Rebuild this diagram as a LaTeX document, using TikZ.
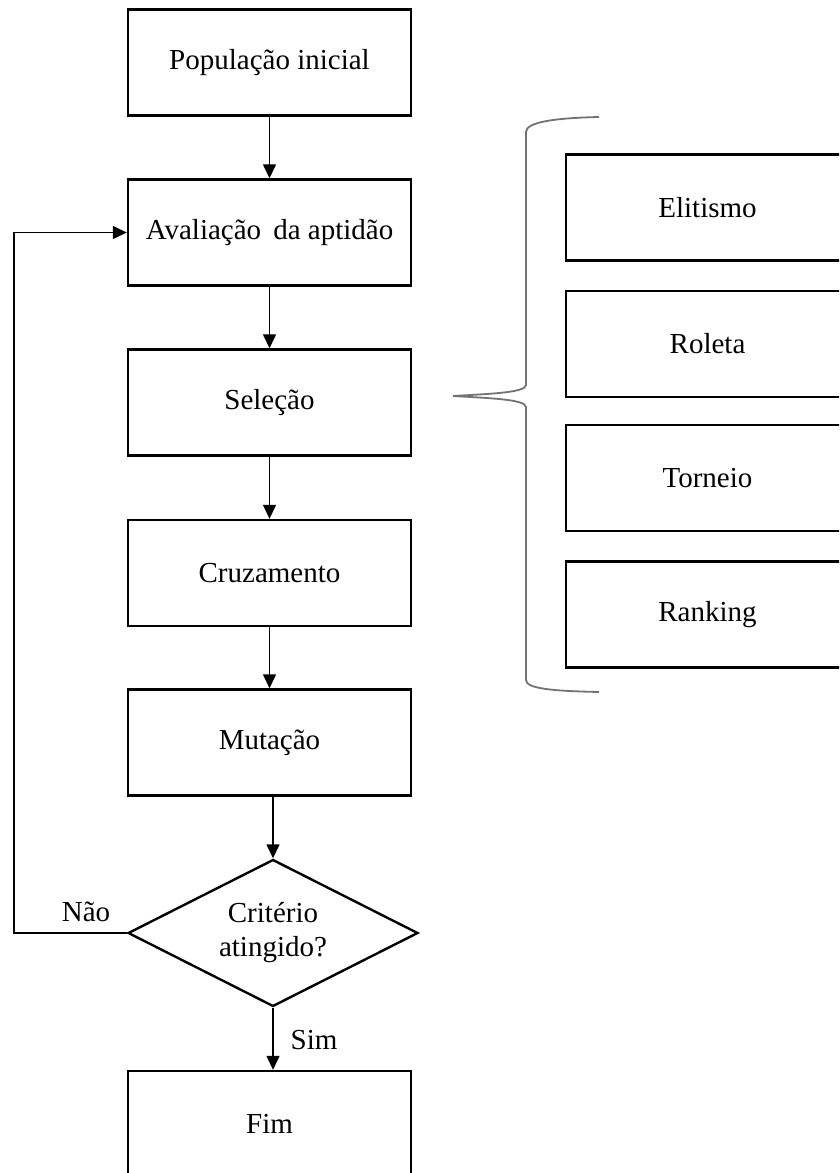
\documentclass[tikz,border=0pt]{standalone}
\usepackage{fontspec}
\setmainfont{Liberation Serif}
\usetikzlibrary{shapes.geometric,arrows.meta}
\begin{document}
\begin{tikzpicture}[x=1pt,y=-1pt,
  box/.style={draw,line width=2.4pt,minimum width=283pt,minimum height=106pt,inner sep=0pt,font=\fontsize{29}{34}\selectfont},
  decision/.style={draw,line width=2.4pt,shape=diamond,aspect=1.97,minimum width=290pt,minimum height=147pt,inner sep=0pt,align=center,font=\fontsize{29}{34}\selectfont},
  lbl/.style={font=\fontsize{29}{34}\selectfont,inner sep=0pt},
  conn/.style={line width=1.4pt,-{Triangle[length=14pt,width=13pt]}},
  bracestyle/.style={draw=black!55,line width=1.8pt}]
\useasboundingbox (0,0) rectangle (839,1173);
\clip (0,0) rectangle (839,1173);
\node[box] (pop) at (269.5,62.5) {População inicial};
\node[box] (aval) at (269.5,232.5) {Avaliação\, da aptidão};
\node[box] (sel) at (269.5,402.5) {Seleção};
\node[box] (cruz) at (269.5,573) {Cruzamento};
\node[box] (mut) at (269.5,742.5) {Mutação};
\node[decision] (dia) at (273,933) {Critério\\atingido?};
\node[box] (fim) at (269.5,1124) {Fim};
\node[box] (eli) at (707.5,207.5) {Elitismo};
\node[box] (rol) at (707.5,344) {Roleta};
\node[box] (tor) at (707.5,478) {Torneio};
\node[box] (ran) at (707.5,614.5) {Ranking};
\node[lbl] (nao) at (86,912) {Não};
\node[lbl] (sim) at (314,1040) {Sim};
\draw[conn] (pop) -- (aval);
\draw[conn] (aval) -- (sel);
\draw[conn] (sel) -- (cruz);
\draw[conn] (cruz) -- (mut);
\draw[conn] (mut.south -| dia.north) -- (dia.north);
\draw[conn] (dia.south) -- (dia.south |- fim.north);
\coordinate (lp) at (14,933);
\draw[conn] (dia.west) -- (lp) |- (aval.west);
\draw[bracestyle] (599,117) .. controls (555,118) and (526,122) .. (526,132)
  -- (526,385) .. controls (526,393) and (485,394) .. (453,396)
  .. controls (485,398) and (526,399) .. (526,407)
  -- (526,680) .. controls (526,689) and (555,691) .. (599,692);
\end{tikzpicture}
\end{document}
